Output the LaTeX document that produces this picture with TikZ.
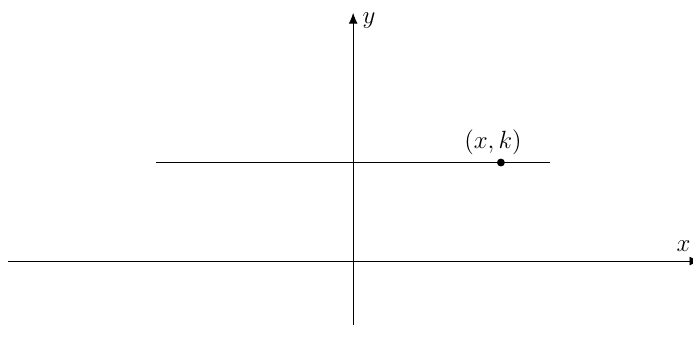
\documentclass[tikz,border=0pt]{standalone}
\usepackage{amsmath}
\usetikzlibrary{positioning, arrows.meta}

\begin{document}
\begin{tikzpicture}[
    axis/.style={-{Latex[length=2.2mm, width=1.8mm]}, line width=0.5pt},
    hline/.style={line width=0.5pt},
    dot/.style={circle, fill=black, inner sep=0pt, minimum size=1.6mm},
    lbl/.style={inner sep=0pt, font=\Large},
  ]
    \useasboundingbox (-7.17,-1.89) rectangle (6.9,5.3);

    \coordinate (xmin) at (-7,0);
    \coordinate (xmax) at (7.05,0);
    \coordinate (ymin) at (0,-1.3);
    \coordinate (ymax) at (0,5.04);
    \coordinate (hl) at (-4,2);
    \coordinate (hr) at (4,2);

    \draw[axis] (xmin) -- (xmax);
    \draw[axis] (ymin) -- (ymax);
    \draw[hline] (hl) -- (hr);

    \node[dot] (pt) at (3,2) {};
    \node[lbl] (ptlbl) at (2.84,2.42) {$(x,k)$};
    \node[lbl] (ylbl) at (0.32,4.88) {$y$};
    \node[lbl] (xlbl) at (6.71,0.3) {$x$};
  \end{tikzpicture}
\end{document}
